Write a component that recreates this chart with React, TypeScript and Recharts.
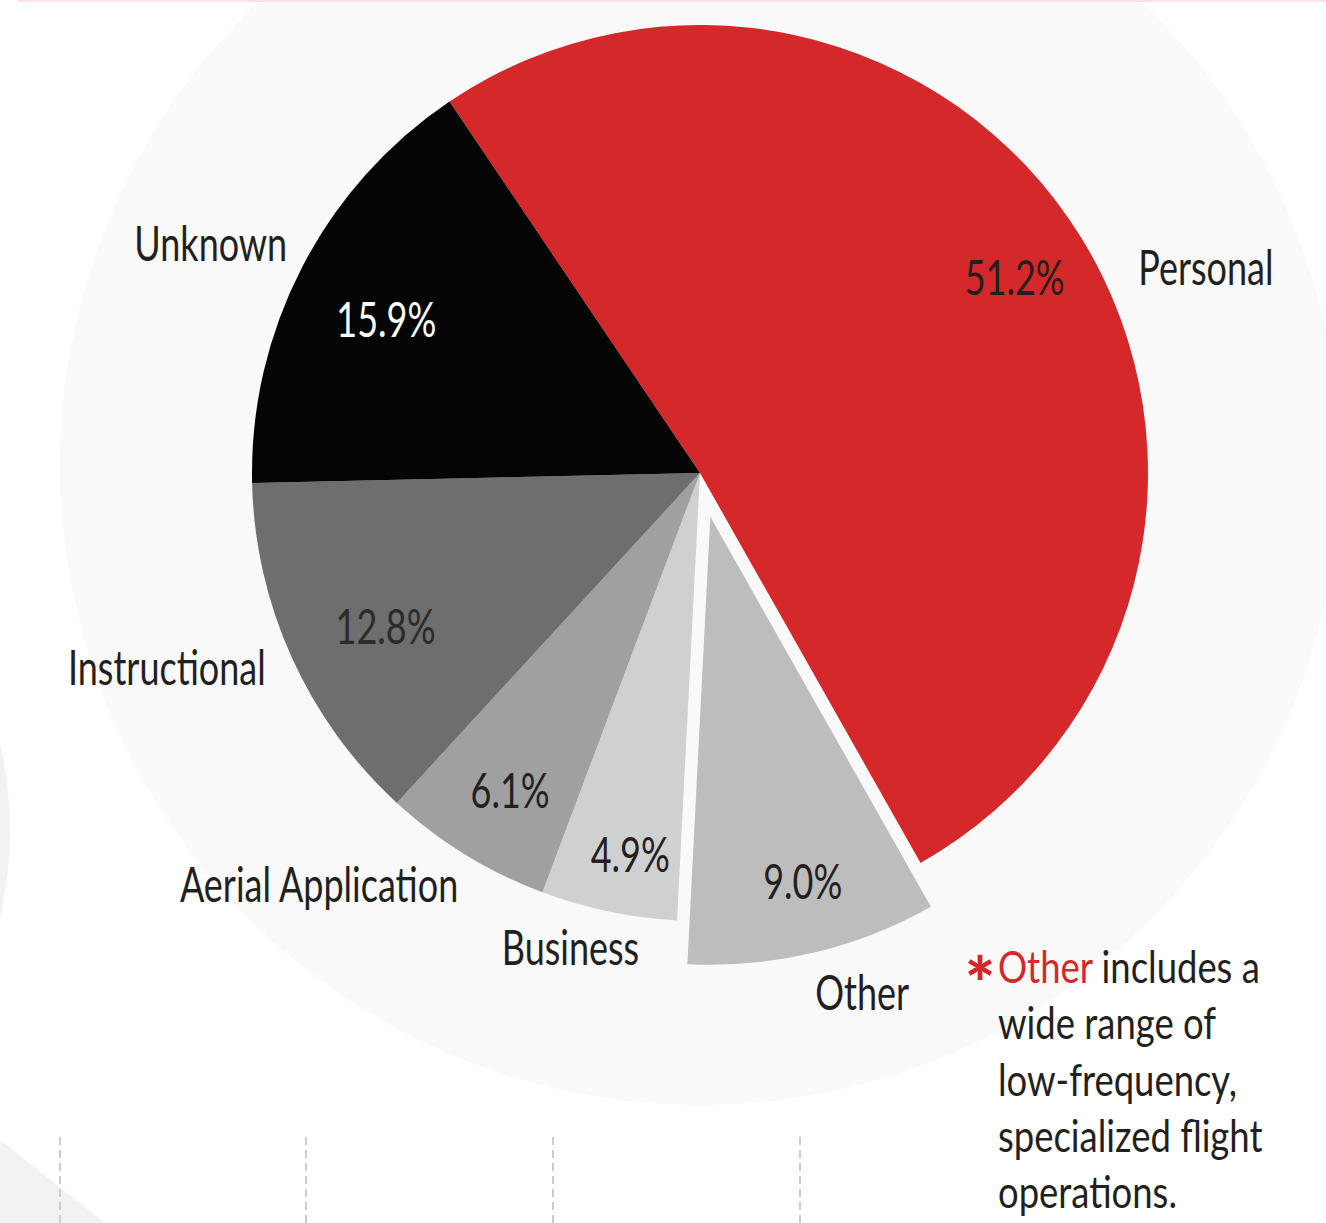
import { PieChart, Pie, Cell } from "recharts";

const NAMES = ["Personal", "Other", "Business", "Aerial Application", "Instructional", "Unknown"];
const VALUES = [51.2, 9.0, 4.9, 6.1, 12.8, 15.9];
const PCT_LABELS = ["51.2%", "9.0%", "4.9%", "6.1%", "12.8%", "15.9%"];
const COLORS = ["#d4282a", "#bdbdbd", "#cfd1d1", "#a0a0a0", "#6e6e6e", "#050505"];
const PCT_COLORS = ["#231f20", "#231f20", "#231f20", "#231f20", "#2b2b2b", "#ffffff"];
const FOOTNOTE = ["includes a", "wide range of", "low-frequency,", "specialized flight", "operations."];

const data = NAMES.map((name, i) => ({ name, value: VALUES[i] }));

const W = 1326;
const H = 1223;
const CX = 700;
const CY = 473;
const R = 448;
const START = 124;
const EXPLODE = 45;
const FONT = "Lato, 'Open Sans', sans-serif";
const FS = 48;
const SX = 0.75;
const CAP = 17; // half cap height, to go from visual centre to baseline
const RAD = Math.PI / 180;

// per-label placement tweaks: percent radius/angle shift, name angle shift/radius, anchor
const LBL: Record<string, { pr: number; pa: number; da: number; nr: number; anchor: "start" | "end" | "middle" }> = {
  Personal: { pr: 370, pa: 0, da: -6.65, nr: 484, anchor: "start" },
  Other: { pr: 377, pa: 0.9, da: 4.4, nr: 500, anchor: "middle" },
  Business: { pr: 388, pa: 1.4, da: -3.5, nr: 492, anchor: "middle" },
  "Aerial Application": { pr: 370, pa: 0.7, da: 1.2, nr: 478, anchor: "end" },
  Instructional: { pr: 350, pa: 1.7, da: -0.2, nr: 476, anchor: "end" },
  Unknown: { pr: 349, pa: 1.35, da: -1.65, nr: 472, anchor: "end" },
};

const total = VALUES.reduce((s, v) => s + v, 0);
const otherIdx = NAMES.indexOf("Other");
const before = VALUES.slice(0, otherIdx).reduce((s, v) => s + v, 0);
const otherMid = START - ((before + VALUES[otherIdx] / 2) / total) * 360;
const OCX = CX + EXPLODE * Math.cos(-otherMid * RAD);
const OCY = CY + EXPLODE * Math.sin(-otherMid * RAD);

function NarrowText({ x, y, anchor, fill, size = FS, sx = SX, children }: any) {
  return (
    <text transform={`translate(${x},${y}) scale(${sx},1)`} textAnchor={anchor} fill={fill}
      fontFamily={FONT} fontSize={size}>
      {children}
    </text>
  );
}

function makeLabel(only: "main" | "other") {
  return (props: any) => {
    const { cx, cy, midAngle, index } = props;
    const name = NAMES[index];
    if ((name === "Other") !== (only === "other")) return null;
    const t = LBL[name];
    const pa = midAngle + t.pa;
    const px = cx + t.pr * Math.cos(-pa * RAD);
    const py = cy + t.pr * Math.sin(-pa * RAD);
    const na = midAngle + t.da;
    const nx = cx + t.nr * Math.cos(-na * RAD);
    const ny = cy + t.nr * Math.sin(-na * RAD);
    return (
      <g key={`lbl-${index}`}>
        <NarrowText x={px} y={py + CAP} anchor="middle" fill={PCT_COLORS[index]}>{PCT_LABELS[index]}</NarrowText>
        <NarrowText x={nx} y={ny + CAP} anchor={t.anchor} fill="#231f20">{name}</NarrowText>
      </g>
    );
  };
}

export default function App() {
  return (
    <div style={{ position: "absolute", left: 0, top: 0, width: W, height: H, background: "#fff", overflow: "hidden" }}>
      <svg width={W} height={H} style={{ position: "absolute", left: 0, top: 0 }}>
        <ellipse cx={-400} cy={830} rx={410} ry={400} fill="#f1f2f4" />
        <polygon points={`0,1140 105,${H} 0,${H}`} fill="#f1f2f4" />
        <circle cx={CX} cy={465} r={640} fill="#f9f9f9" />
        <rect x={18} y={0} width={W} height={2} fill="#f8e4e4" />
        {[60, 306, 553, 800].map(x => (
          <line key={x} x1={x} x2={x} y1={1137} y2={H} stroke="#cccccc" strokeWidth={2} strokeDasharray="8 5" />
        ))}
        <text x={980} y={1010} textAnchor="middle" fill="#d4282a" fontFamily={FONT} fontWeight={900} fontSize={72}>*</text>
        {FOOTNOTE.map((line, i) => (
          <NarrowText key={i} x={998} y={983 + i * 56.3} anchor="start" fill="#231f20" size={45} sx={0.81}>
            {i === 0 && <tspan fill="#d4282a">Other </tspan>}
            {line}
          </NarrowText>
        ))}
      </svg>
      <div style={{ position: "absolute", left: 0, top: 0 }}>
        <PieChart width={W} height={H} margin={{ top: 0, right: 0, bottom: 0, left: 0 }}>
          <Pie data={data} dataKey="value" nameKey="name" cx={CX} cy={CY} outerRadius={R}
            startAngle={START} endAngle={START - 360} stroke="none" isAnimationActive={false}
            label={makeLabel("main")} labelLine={false}>
            {data.map((d, i) => (
              <Cell key={i} fill={d.name === "Other" ? "transparent" : COLORS[i]} />
            ))}
          </Pie>
          <Pie data={data} dataKey="value" nameKey="name" cx={OCX} cy={OCY} outerRadius={R}
            startAngle={START} endAngle={START - 360} stroke="none" isAnimationActive={false}
            label={makeLabel("other")} labelLine={false}>
            {data.map((d, i) => (
              <Cell key={i} fill={d.name === "Other" ? COLORS[i] : "transparent"} />
            ))}
          </Pie>
        </PieChart>
      </div>
    </div>
  );
}
